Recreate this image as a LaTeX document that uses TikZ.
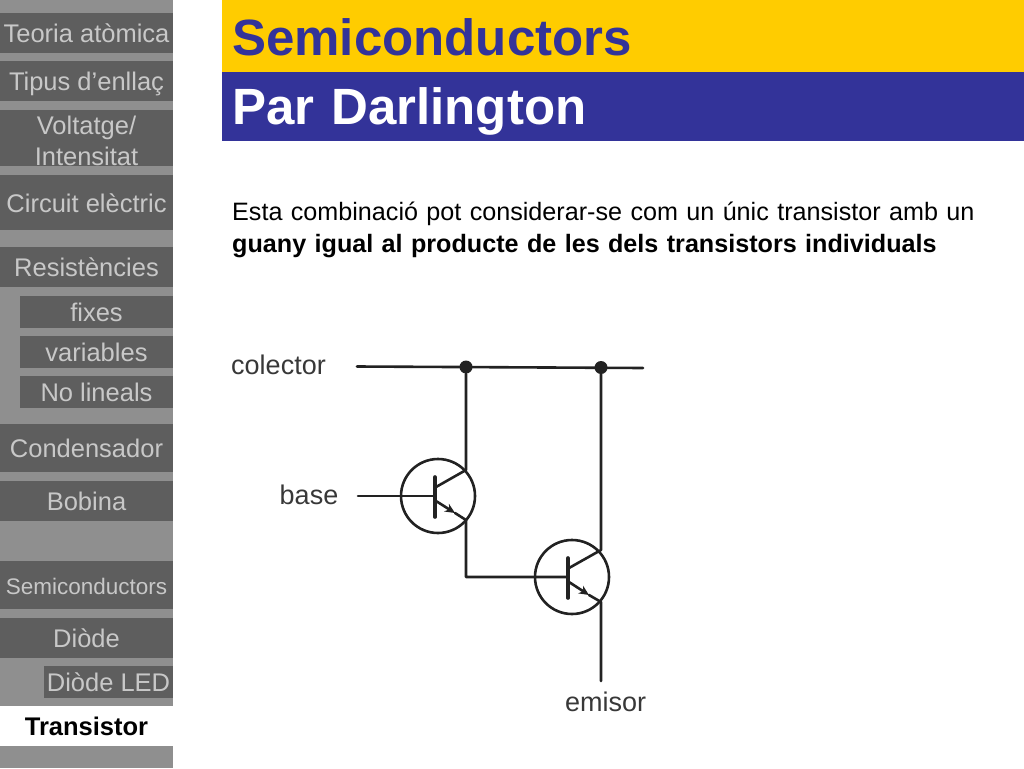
\documentclass[tikz,border=0pt]{standalone}
\usepackage{fontspec}
\setmainfont{Liberation Sans}
\usetikzlibrary{arrows.meta}
\definecolor{menubg}{HTML}{8F8F8F}
\definecolor{menudark}{HTML}{5E5E5E}
\definecolor{menutext}{HTML}{C8C8C8}
\definecolor{titleyellow}{HTML}{FFCC00}
\definecolor{titleblue}{HTML}{333399}
\definecolor{wire}{HTML}{222222}
\begin{document}
\begin{tikzpicture}[x=1pt, y=-1pt, line cap=round, line join=round, >={Stealth[length=10pt,width=9pt]}]
	\tikzset{
		menuitem/.style={fill=menudark, text=menutext, inner sep=0pt, align=center, text height=24pt, text depth=5pt, font=\fontsize{25.5}{31}\selectfont},
		titlebar/.style={inner sep=0pt, minimum width=802pt, anchor=north west, text width=782pt, align=left, text depth=0pt, font=\fontsize{51}{55}\selectfont\bfseries},
		wirelabel/.style={text=wire!90!white, inner sep=0pt, font=\fontsize{27}{30}\selectfont},
		trans/.style={draw=wire, circle, line width=2.6pt, minimum size=74pt, inner sep=0pt},
		dot/.style={fill=wire, circle, minimum size=13pt, inner sep=0pt},
		line/.style={draw=wire, line width=2.6pt}
	}
	\useasboundingbox (0,0) rectangle (1024,768);
	\fill[menubg] (0,0) rectangle (173,768);
	% menu
	\node[menuitem, minimum width=173pt, minimum height=40pt] (teoria) at (86.5,33) {Teoria atòmica};
	\node[menuitem, minimum width=173pt, minimum height=40pt] (tipus) at (86.5,81) {Tipus d’enllaç};
	\node[menuitem, minimum width=173pt, minimum height=56pt, text height=, text depth=] (voltatge) at (86.5,138) {\rule{0pt}{24pt}Voltatge/\\Intensitat};
	\node[menuitem, minimum width=173pt, minimum height=55pt] (circuit) at (86.5,202.5) {Circuit elèctric};
	\node[menuitem, minimum width=173pt, minimum height=40pt] (resist) at (86.5,267) {Resistències};
	\node[menuitem, minimum width=153pt, minimum height=32pt] (fixes) at (96.5,311.5) {fixes};
	\node[menuitem, minimum width=153pt, minimum height=32pt] (variables) at (96.5,351.5) {variables};
	\node[menuitem, minimum width=153pt, minimum height=32pt] (lineals) at (96.5,391.5) {No lineals};
	\node[menuitem, minimum width=173pt, minimum height=48pt] (conden) at (86.5,448) {Condensador};
	\node[menuitem, minimum width=173pt, minimum height=40pt] (bobina) at (86.5,501) {Bobina};
	\node[menuitem, minimum width=173pt, minimum height=48pt, font=\fontsize{22.5}{26}\selectfont] (semi) at (86.5,585) {Semiconductors};
	\node[menuitem, minimum width=173pt, minimum height=40pt] (diode) at (86.5,638) {Diòde};
	\node[menuitem, minimum width=129pt, minimum height=32pt] (led) at (108.5,682) {Diòde LED};
	\node[menuitem, fill=white, text=black, minimum width=173pt, minimum height=40pt, font=\fontsize{25.5}{30}\selectfont\bfseries] (transistor) at (86.5,726) {Transistor};
	% titles
	\node[titlebar, fill=titleyellow, text=titleblue, minimum height=72pt, text height=39pt] (title) at (222,0) {Semiconductors};
	\node[titlebar, fill=titleblue, text=white, minimum height=69pt, text height=35pt] (subtitle) at (222,72) {Par Darlington};
	\node[anchor=north west, inner sep=0pt, text width=780pt, align=left, font=\fontsize{25.15}{32}\selectfont] (text) at (232,202) {Esta combinació pot considerar-se com un únic transistor amb un\\\textbf{guany igual al producte de les dels transistors individuals}};
	% circuit
	\node[wirelabel] (colector) at (278.5,365) {colector};
	\node[wirelabel] (base) at (309,495) {base};
	\node[wirelabel] (emisor) at (605.5,702) {emisor};
	\node[trans] (t1) at (438,496) {};
	\node[trans] (t2) at (572,577) {};
	\node[dot] (dot1) at (466,367) {};
	\node[dot] (dot2) at (601,367.5) {};
	\coordinate (cstart) at (357,366.5);
	\coordinate (cend) at (643,368);
	\coordinate (bstart) at (358,496);
	\coordinate (estart) at (601,681);
	\coordinate (bar1a) at (435,477);
	\coordinate (bar1b) at (435,517);
	\coordinate (bar1) at (435,496);
	\coordinate (c1a) at (436,487);
	\coordinate (c1b) at (466,470);
	\coordinate (e1a) at (436,501);
	\coordinate (e1m) at (455,513);
	\coordinate (e1b) at (466,520);
	\coordinate (link) at (466,577);
	\coordinate (bar2a) at (568,558);
	\coordinate (bar2b) at (568,598);
	\coordinate (bar2) at (568,577);
	\coordinate (c2a) at (569,568);
	\coordinate (c2b) at (601,550);
	\coordinate (e2a) at (569,582);
	\coordinate (e2m) at (589,595);
	\coordinate (e2b) at (601,602);
	\draw[line] (cstart) -- (cend);
	\draw[line] (dot1) -- (c1b) -- (c1a);
	\draw[line, line width=3.6pt] (bar1a) -- (bar1b);
	\draw[line] (bstart) -- (bar1);
	\draw[line, ->] (e1a) -- (e1m);
	\draw[line] (e1m) -- (e1b) -- (link) -- (bar2);
	\draw[line, line width=3.6pt] (bar2a) -- (bar2b);
	\draw[line] (dot2) -- (c2b) -- (c2a);
	\draw[line, ->] (e2a) -- (e2m);
	\draw[line] (e2m) -- (e2b) -- (estart);
\end{tikzpicture}
\end{document}
